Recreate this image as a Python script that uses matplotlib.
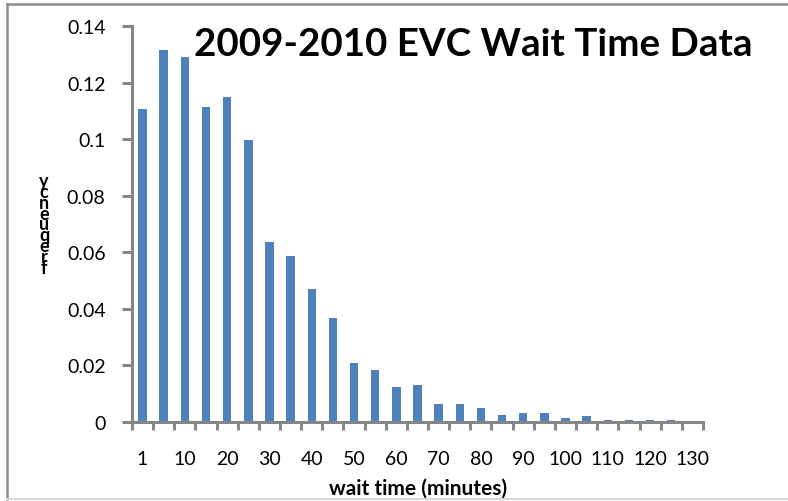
import numpy as np
import matplotlib.pyplot as plt
from matplotlib.lines import Line2D

# wait time categories (minutes) and the measured frequency of each
wait_time = [1, 5, 10, 15, 20, 25, 30, 35, 40, 45, 50, 55, 60, 65, 70,
             75, 80, 85, 90, 95, 100, 105, 110, 115, 120, 125, 130]
frequency = [0.1106, 0.1315, 0.1290, 0.1113, 0.1149, 0.0997, 0.0636, 0.0586,
             0.0471, 0.0368, 0.0209, 0.0185, 0.0124, 0.0130, 0.0063, 0.0063,
             0.0049, 0.0024, 0.0030, 0.0030, 0.0013, 0.0020, 0.0006, 0.0006,
             0.0006, 0.0006, 0.0]
y_ticks = [0, 0.02, 0.04, 0.06, 0.08, 0.1, 0.12, 0.14]
y_tick_labels = ['0', '0.02', '0.04', '0.06', '0.08', '0.1', '0.12', '0.14']

font = 'Lato'
axis_grey = '#868686'

fig = plt.figure(figsize=(7.88, 5.02), dpi=100)
ax = fig.add_axes([0.1675, 0.1574, 0.7246, 0.7888])

# Bars, one per category
pos = np.arange(len(wait_time))
ax.bar(pos, frequency, width=0.4, color='#4F81BD')

ax.set_xlim(-0.5, len(wait_time) - 0.5)
ax.set_ylim(0, 0.14)

# Major ticks between categories, labels on every other category
ax.set_xticks(np.arange(len(wait_time) + 1) - 0.5)
ax.set_xticklabels([])
ax.set_xticks(pos[::2], minor=True)
ax.set_xticklabels([str(w) for w in wait_time[::2]], minor=True,
                   fontsize=14, family=font)
ax.tick_params(axis='x', which='major', direction='out', length=6,
               width=2.2, color=axis_grey)
ax.tick_params(axis='x', which='minor', length=0, pad=20)

ax.set_yticks(y_ticks)
ax.set_yticklabels(y_tick_labels, fontsize=14, family=font)
ax.tick_params(axis='y', direction='out', length=7, width=2.2,
               color=axis_grey, pad=12)

for side in ['top', 'right']:
    ax.spines[side].set_visible(False)
for side in ['left', 'bottom']:
    ax.spines[side].set_color(axis_grey)
    ax.spines[side].set_linewidth(2.2)

# Title inside the plot area
fig.text(0.601, 0.910, '2009-2010 EVC Wait Time Data', ha='center',
         va='center', fontsize=27.7, fontweight='bold', family=font)

# Axis titles: y label drawn as stacked letters like the original
fig.text(0.056, 0.552, '\n'.join(reversed('frequency')), ha='center',
         va='center', fontsize=13, fontweight='bold', family=font,
         linespacing=0.56)
fig.text(0.530, 0.026, 'wait time (minutes)', ha='center', va='center',
         fontsize=15, fontweight='bold', family=font)

# Chart border
fig.add_artist(Line2D([0.0089, 1.0], [0.990, 0.990], color='#8c8c8c', lw=1.8))
fig.add_artist(Line2D([0.0089, 0.0089], [0.003, 0.990], color='#8c8c8c', lw=1.8))
fig.add_artist(Line2D([0.0089, 1.0], [0.003, 0.003], color='#d9d9d9', lw=1.5))

plt.savefig('out.png')
